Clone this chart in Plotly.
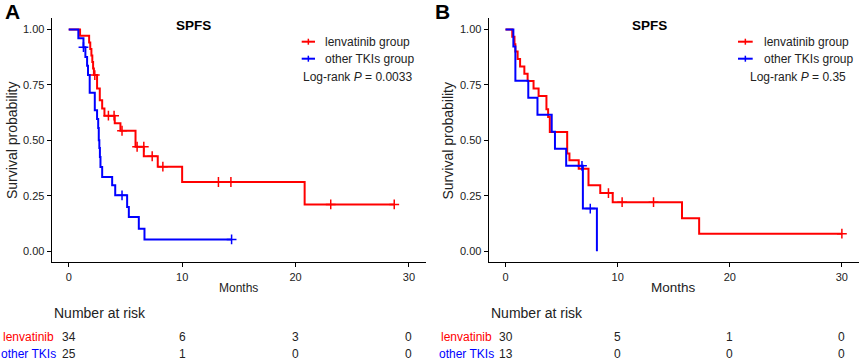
import plotly.graph_objects as go

W, H = 865, 360
RED = "#FF0000"
BLUE = "#0000FF"
FONT = "Liberation Sans, Arial, sans-serif"

# ---------------- data ----------------
# Panel A (SPFS)
a_len_t = [0, 1.0, 1.8, 1.9, 2.0, 2.08, 2.15, 2.22, 2.5, 2.74, 2.95, 3.15, 4.06, 4.56, 5.89, 6.62, 7.85, 10.0, 20.8, 28.7]
a_len_s = [1.0, 0.971, 0.941, 0.912, 0.882, 0.853, 0.824, 0.794, 0.733, 0.68, 0.643, 0.611, 0.577, 0.543, 0.471, 0.428, 0.381, 0.312, 0.211, 0.211]
a_len_cens_t = [2.3, 3.5, 4.0, 4.7, 6.03, 6.62, 7.36, 8.3, 13.2, 14.3, 23.1, 28.7]
a_len_cens_s = [0.794, 0.611, 0.611, 0.543, 0.471, 0.471, 0.428, 0.381, 0.312, 0.312, 0.211, 0.211]

a_oth_t = [0, 0.85, 1.3, 1.47, 1.62, 1.7, 1.85, 2.3, 2.5, 2.6, 2.65, 2.7, 2.75, 2.8, 2.95, 3.83, 4.1, 5.15, 5.3, 6.18, 6.68, 14.36]
a_oth_s = [1.0, 0.96, 0.92, 0.876, 0.836, 0.794, 0.714, 0.636, 0.596, 0.556, 0.5, 0.465, 0.425, 0.38, 0.334, 0.297, 0.252, 0.199, 0.154, 0.101, 0.053, 0.053]
a_oth_cens_t = [1.3, 4.7, 14.36]
a_oth_cens_s = [0.92, 0.252, 0.053]

# Panel B (SPFS)
b_len_t = [0, 0.6, 0.8, 0.88, 1.08, 1.3, 1.68, 1.97, 2.5, 2.95, 3.65, 3.8, 3.95, 5.5, 5.7, 6.53, 7.4, 8.45, 9.56, 15.74, 17.27, 30.0]
b_len_s = [1.0, 0.967, 0.933, 0.9, 0.867, 0.833, 0.8, 0.767, 0.733, 0.7, 0.64, 0.605, 0.537, 0.44, 0.41, 0.372, 0.297, 0.262, 0.221, 0.149, 0.079, 0.079]
b_len_cens_t = [9.18, 10.4, 13.2, 30.0]
b_len_cens_s = [0.262, 0.221, 0.221, 0.079]

b_oth_t = [0, 0.7, 0.88, 2.03, 2.85, 4.12, 4.41, 5.41, 6.9, 8.15]
b_oth_s = [1.0, 0.923, 0.769, 0.692, 0.615, 0.538, 0.462, 0.385, 0.192, 0.0]
b_oth_cens_t = [6.82, 7.56]
b_oth_cens_s = [0.385, 0.192]

x_ticks = [0, 10, 20, 30]
y_ticks = [0.0, 0.25, 0.5, 0.75, 1.0]
y_tick_labels = ["0.00", "0.25", "0.50", "0.75", "1.00"]

a_risk_len = [34, 6, 3, 0]
a_risk_oth = [25, 1, 0, 0]
b_risk_len = [30, 5, 1, 0]
b_risk_oth = [13, 0, 0, 0]

a_pval = "Log-rank <i>P</i> = 0.0033"
b_pval = "Log-rank <i>P</i> = 0.35"

# ---------------- helpers ----------------
def px(x):
    return x / W

def py(y):
    return 1 - y / H

fig = go.Figure()

def add_curve(t, s, ct, cs, color, xa, ya):
    fig.add_trace(go.Scatter(x=t, y=s, mode="lines", line=dict(color=color, width=2, shape="hv"),
                             xaxis=xa, yaxis=ya, showlegend=False, hoverinfo="skip"))
    fig.add_trace(go.Scatter(x=ct, y=cs, mode="markers",
                             marker=dict(symbol="cross-thin", size=7, line=dict(color=color, width=1.5)),
                             xaxis=xa, yaxis=ya, showlegend=False, hoverinfo="skip"))

add_curve(a_len_t, a_len_s, a_len_cens_t, a_len_cens_s, RED, "x", "y")
add_curve(a_oth_t, a_oth_s, a_oth_cens_t, a_oth_cens_s, BLUE, "x", "y")
add_curve(b_len_t, b_len_s, b_len_cens_t, b_len_cens_s, RED, "x2", "y2")
add_curve(b_oth_t, b_oth_s, b_oth_cens_t, b_oth_cens_s, BLUE, "x2", "y2")

ydom = [py(262.3), py(18.3)]
axis_common = dict(showline=True, linecolor="black", linewidth=1.2, ticks="outside", ticklen=4,
                   tickcolor="black", tickwidth=1, showgrid=False, zeroline=False,
                   tickfont=dict(family=FONT, size=11, color="#222222"))
fig.update_layout(
    width=W, height=H, margin=dict(l=0, r=0, t=0, b=0),
    paper_bgcolor="white", plot_bgcolor="white",
    font=dict(family=FONT, color="black"),
    xaxis=dict(domain=[px(51.7), px(426)], range=[-1.5, 31.5], tickvals=x_ticks, anchor="y", **axis_common),
    yaxis=dict(domain=ydom, range=[-0.05, 1.05], tickvals=y_ticks, ticktext=y_tick_labels, anchor="x", **axis_common),
    xaxis2=dict(domain=[px(488.7), px(858.7)], range=[-1.5, 31.5], tickvals=x_ticks, anchor="y2", **axis_common),
    yaxis2=dict(domain=ydom, range=[-0.05, 1.05], tickvals=y_ticks, ticktext=y_tick_labels, anchor="x2", **axis_common),
)

ann = []
shapes = []

def text(x, y, s, size=12, color="black", xanchor="center", bold=False, xref="paper", textangle=0):
    if bold:
        s = "<b>" + s + "</b>"
    ann.append(dict(x=x, y=y, xref=xref, yref="paper", text=s, showarrow=False, xanchor=xanchor,
                    yanchor="middle", textangle=textangle,
                    font=dict(family=FONT, size=size, color=color)))

panels = [
    dict(letter="A", lx=12.8, ly=12, title_x=193.3, yt_x=12.5, months_x=238.8, months_size=12,
         leg_x0=301.7, leg_x1=315.0, leg_tx=322.7, p_x=301.0, p_anchor="left", pval=a_pval,
         nar_x=51.7, row_x=28.6, xref="x", rl=a_risk_len, ro=a_risk_oth),
    dict(letter="B", lx=442.8, ly=11.5, title_x=649.7, yt_x=448.0, months_x=673.7, months_size=13.5,
         leg_x0=738.0, leg_x1=752.7, leg_tx=761.7, p_x=848.0, p_anchor="right", pval=b_pval,
         nar_x=489.3, row_x=466.2, xref="x2", rl=b_risk_len, ro=b_risk_oth),
]

for p in panels:
    text(px(p["lx"]), py(p["ly"]), p["letter"], size=21, bold=True)
    text(px(p["title_x"]), py(26), "SPFS", size=13.5, bold=True)
    text(px(p["yt_x"]), py(140.5), "Survival probability", size=14, textangle=-90, color="#222222")
    text(px(p["months_x"]), py(287.5), "Months", size=p["months_size"], color="#222222")
    # legend
    for yy, col, lab in [(41.7, RED, "lenvatinib group"), (58.7, BLUE, "other TKIs group")]:
        shapes.append(dict(type="line", xref="paper", yref="paper", x0=px(p["leg_x0"]), x1=px(p["leg_x1"]),
                           y0=py(yy), y1=py(yy), line=dict(color=col, width=2)))
        xm = (p["leg_x0"] + p["leg_x1"]) / 2
        shapes.append(dict(type="line", xref="paper", yref="paper", x0=px(xm), x1=px(xm),
                           y0=py(yy - 3), y1=py(yy + 3), line=dict(color=col, width=1.5)))
        text(px(p["leg_tx"]), py(yy), lab, size=12, xanchor="left", color="#222222")
    text(px(p["p_x"]), py(77), p["pval"], size=12, xanchor=p["p_anchor"], color="#222222")
    # risk table
    text(px(p["nar_x"]), py(313), "Number at risk", size=14, xanchor="left", color="#222222")
    text(px(p["row_x"]), py(337.3), "lenvatinib", size=12, color=RED)
    text(px(p["row_x"]), py(353.5), "other TKIs", size=12, color=BLUE)
    for xv, n1, n2 in zip(x_ticks, p["rl"], p["ro"]):
        text(xv, py(337.3), str(n1), size=12, xref=p["xref"], color="#222222")
        text(xv, py(353.5), str(n2), size=12, xref=p["xref"], color="#222222")

fig.update_layout(annotations=ann, shapes=shapes)
fig.write_html(
    "out.html",
    config={"displayModeBar": False},
    post_script="document.body.style.margin='0';document.body.style.padding='0';document.body.style.overflow='hidden';",
)
